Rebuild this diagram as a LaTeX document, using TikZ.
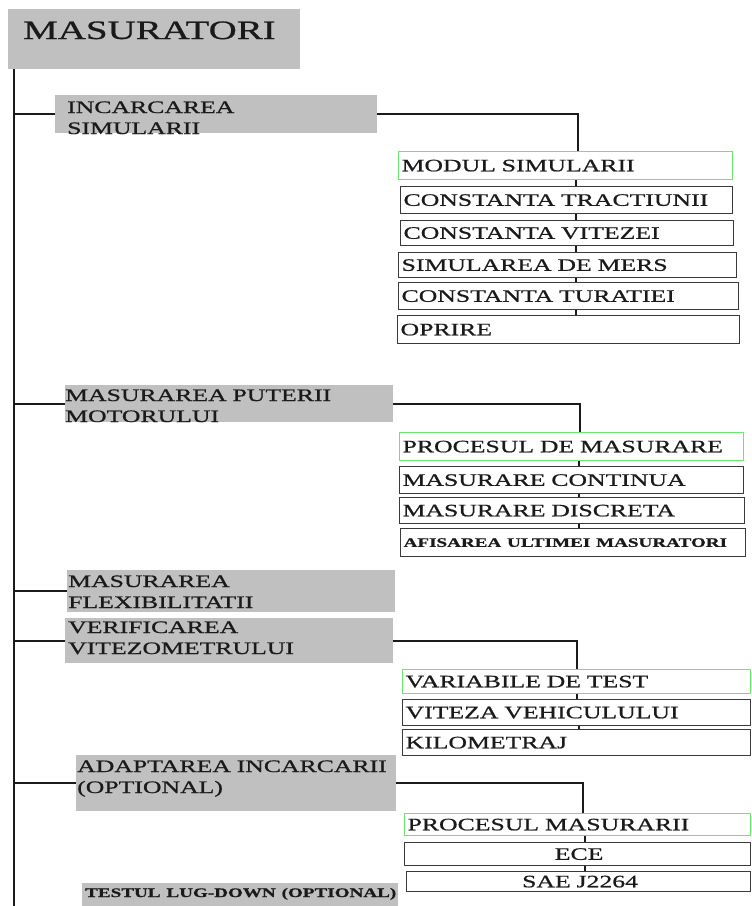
\documentclass[tikz,border=0pt]{standalone}
\usepackage{fontspec}
\setmainfont{Liberation Serif}[FakeStretch=1.47, FakeBold=0.8]
\definecolor{catgray}{HTML}{C0C0C0}
\definecolor{okgreen}{HTML}{6AE86A}
\definecolor{edge}{HTML}{3A3A3A}
\definecolor{ink}{HTML}{1A1A1A}
% a grey heading box: name, x, y, width, height, text x, text baseline, text
\newcommand{\cat}[8]{
	\node[catbox, minimum width=#4pt, minimum height=#5pt] (#1) at (#2,#3) {};
	\node[cattext] (#1-t) at (#6,#7) {#8};
	}
% a framed sub item: style, name, x, y, width, height, text
\newcommand{\sub}[7]{
	\node[#1, minimum width=#5pt, minimum height=#6pt, text width=#5pt] (#2) at (#3,#4) {\hspace*{3pt}#7};
	}
% short joint between two stacked sub items
\newcommand{\joint}[3]{
	\draw [joint] (#1.south -| #3,0) -- (#2.north -| #3,0);
	}
\newcommand{\smallbf}{\fontsize{13}{15}\selectfont\bfseries}

\begin{document}
\begin{tikzpicture}[
      x=1pt, y=-1pt, %one unit is one pixel, y grows downwards
      catbox/.style={fill=catgray, anchor=north west, inner sep=0pt},
      cattext/.style={anchor=base west, inner sep=0pt, text width=330pt, align=left,
        font=\fontsize{17.5}{21}\selectfont, text=ink},
      subbox/.style={draw=edge, line width=1.2pt, anchor=north west, inner sep=0pt,
        align=left, font=\fontsize{17.5}{21}\selectfont, text=ink},
      headbox/.style={subbox, draw=okgreen},
      midbox/.style={subbox, align=center},
      trunk/.style={line width=2.6pt, draw=ink},
      link/.style={line width=1.6pt, draw=ink},
      branch/.style={line width=1.8pt, draw=ink},
      joint/.style={line width=1.8pt, draw=ink}
    ]
    \useasboundingbox (0,0) rectangle (752,906);
    % Title and the main trunk
    \node[catbox, minimum width=292pt, minimum height=60pt] (title) at (8,9) {};
    \node[anchor=base west, inner sep=0pt, font=\fontsize{26.5}{30}\selectfont, text=ink] (title-t) at (23,39) {MASURATORI};
    \coordinate (trunkend) at (14,906);
    \draw [trunk] (title.south west -| trunkend) -- (trunkend);
    % Draw the heading boxes
    \cat{inc}{55}{95}{322}{38}{67}{113}{INCARCAREA\\SIMULARII};
    \cat{put}{65}{385}{328}{37}{65}{401}{MASURAREA PUTERII\\MOTORULUI};
    \cat{flex}{67}{570}{328}{42}{68}{587}{MASURAREA\\FLEXIBILITATII};
    \cat{verif}{65}{618}{328}{45}{68}{633}{VERIFICAREA\\VITEZOMETRULUI};
    \cat{adapt}{76}{755}{320}{56}{77}{772}{ADAPTAREA INCARCARII\\(OPTIONAL)};
    \cat{lug}{82}{883}{316}{23}{85}{897}{\smallbf TESTUL LUG-DOWN (OPTIONAL)};
    % Links from the trunk
    \draw [link] (inc.west) -- (inc.west -| trunkend);
    \draw [link] (put.west) -- (put.west -| trunkend);
    \draw [link] (flex.west) -- (flex.west -| trunkend);
    \draw [link] (verif.west) -- (verif.west -| trunkend);
    \draw [link] (adapt.west) -- (adapt.west -| trunkend);
    % Sub items of the simulation
    \sub{headbox}{modul}{398}{151}{334}{28}{MODUL SIMULARII};
    \sub{subbox}{ctr}{400}{186}{332}{27}{CONSTANTA TRACTIUNII};
    \sub{subbox}{cvit}{400}{220}{333}{25}{CONSTANTA VITEZEI};
    \sub{subbox}{sim}{398}{252}{338}{25}{SIMULAREA DE MERS};
    \sub{subbox}{ctur}{398}{282}{340}{27}{CONSTANTA TURATIEI};
    \sub{subbox}{opr}{397}{315}{342}{28}{OPRIRE};
    \draw [branch] (inc.east) -| (modul.north -| 578,0);
    \joint{modul}{ctr}{576};
    \joint{ctr}{cvit}{576};
    \joint{cvit}{sim}{576};
    \joint{sim}{ctur}{576};
    \joint{ctur}{opr}{576};
    % Sub items of the engine power
    \sub{headbox}{proc}{399}{432}{344}{28}{PROCESUL DE MASURARE};
    \sub{subbox}{mcont}{399}{466}{344}{27}{MASURARE CONTINUA};
    \sub{subbox}{mdisc}{399}{497}{345}{26}{MASURARE DISCRETA};
    \sub{subbox}{afis}{400}{528}{345}{28}{\smallbf AFISAREA ULTIMEI MASURATORI};
    \draw [branch] (put.east) -| (proc.north -| 580,0);
    \joint{proc}{mcont}{579};
    \joint{mcont}{mdisc}{579};
    \joint{mdisc}{afis}{579};
    % Sub items of the speedometer check
    \sub{headbox}{var}{402}{669}{348}{24}{VARIABILE DE TEST};
    \sub{subbox}{vveh}{402}{699}{348}{26}{VITEZA VEHICULULUI};
    \sub{subbox}{km}{402}{729}{348}{26}{KILOMETRAJ};
    \draw [branch] (verif.east) -| (var.north -| 577,0);
    \joint{var}{vveh}{577};
    \joint{vveh}{km}{579};
    % Sub items of the load adaptation
    \sub{headbox}{pmas}{404}{813}{346}{22}{PROCESUL MASURARII};
    \sub{midbox}{ece}{404}{842}{346}{23}{ECE};
    \sub{midbox}{sae}{406}{871}{344}{20}{SAE J2264};
    \draw [branch] (adapt.east) -| (pmas.north -| 583,0);
    \joint{pmas}{ece}{585};
    \joint{ece}{sae}{585};
\end{tikzpicture}
\end{document}
